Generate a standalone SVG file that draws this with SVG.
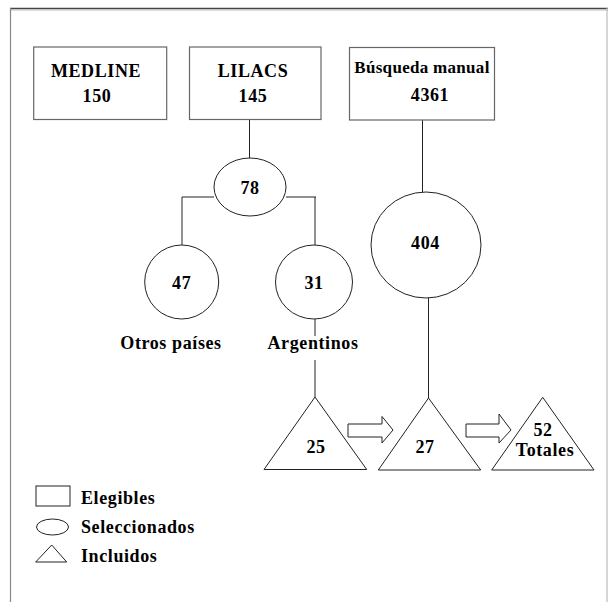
<svg xmlns="http://www.w3.org/2000/svg" width="608" height="602" viewBox="0 0 608 602">
<style>
.t{font-family:"Liberation Serif","Times New Roman",serif;font-weight:bold;font-size:18px;fill:#000;text-anchor:middle;letter-spacing:0.6px}
.tl{text-anchor:start}
.box{fill:#fff;stroke:#666;stroke-width:1.2}
.sh{fill:#fff;stroke:#222;stroke-width:1}
.ln{stroke:#222;stroke-width:1;fill:none}
</style>
<rect width="608" height="602" fill="#fff"/>
<g id="frame">
<line x1="10" y1="8.5" x2="608" y2="8.5" stroke="#444" stroke-width="1.5"/>
<line x1="10" y1="10" x2="608" y2="10" stroke="#bbb" stroke-width="1"/>
<line x1="10.5" y1="8" x2="10.5" y2="602" stroke="#888" stroke-width="1.2"/>
<line x1="607" y1="8" x2="607" y2="602" stroke="#bbb" stroke-width="1.2"/>
</g>
<g id="connectors">
<line class="ln" x1="249.5" y1="119" x2="249.5" y2="158" stroke-width="2"/>
<polyline class="ln" points="214,197 182,197 182,245"/>
<line class="ln" x1="286" y1="197" x2="316" y2="197" stroke-width="2.5"/>
<line class="ln" x1="315" y1="197" x2="315" y2="245"/>
<line class="ln" x1="315" y1="319" x2="315" y2="336"/>
<line class="ln" x1="315" y1="360" x2="315" y2="397"/>
<line class="ln" x1="422.5" y1="120" x2="422.5" y2="192"/>
<line class="ln" x1="428.5" y1="298" x2="428.5" y2="398"/>
<polygon class="sh" points="348,424 382,424 382,416.5 393,430 382,443 382,437 348,437"/>
<polygon class="sh" points="466,424 499,424 499,414 511,430 499,443 499,437 466,437"/>
</g>
<g id="medline">
<rect class="box" x="33.7" y="47" width="133" height="72.5"/>
<text class="t" x="96" y="77">MEDLINE</text>
<text class="t" x="97" y="102">150</text>
</g>
<g id="lilacs">
<rect class="box" x="189.5" y="47" width="131.5" height="72.5"/>
<text class="t" x="253" y="77">LILACS</text>
<text class="t" x="253" y="102">145</text>
</g>
<g id="busqueda">
<rect class="box" x="349.5" y="47.5" width="145" height="72.5" stroke="#333"/>
<text class="t" x="422" y="73" style="font-size:17px;letter-spacing:0.3px">Búsqueda manual</text>
<text class="t" x="430" y="101">4361</text>
</g>
<g id="n78">
<ellipse class="sh" cx="250" cy="187" rx="36" ry="29"/>
<text class="t" x="250" y="193.5">78</text>
</g>
<g id="n47">
<circle class="sh" cx="181.7" cy="282" r="37"/>
<text class="t" x="181.7" y="289">47</text>
<text class="t" x="171" y="349">Otros países</text>
</g>
<g id="n31">
<ellipse class="sh" cx="314" cy="282" rx="38.5" ry="37"/>
<text class="t" x="314" y="289">31</text>
<text class="t" x="313" y="349">Argentinos</text>
</g>
<g id="n404">
<ellipse class="sh" cx="426" cy="245" rx="55" ry="53"/>
<text class="t" x="425.5" y="249">404</text>
</g>
<g id="n25">
<polygon class="sh" points="315,397 264,469.5 366.7,469.5"/>
<text class="t" x="316" y="453">25</text>
</g>
<g id="n27">
<polygon class="sh" points="428.5,398 378.3,470 480.7,470"/>
<text class="t" x="425" y="453">27</text>
</g>
<g id="n52">
<polygon class="sh" points="542.7,397.3 491.7,470 594,470"/>
<text class="t" x="543" y="436">52</text>
<text class="t" x="545" y="456">Totales</text>
</g>
<g id="legend">
<rect class="sh" x="36" y="486" width="34" height="20"/>
<text class="t tl" x="81" y="504">Elegibles</text>
<ellipse class="sh" cx="52.5" cy="527" rx="16" ry="8"/>
<text class="t tl" x="81" y="533">Seleccionados</text>
<polygon class="sh" points="51.7,545 35.7,562 66.7,562"/>
<text class="t tl" x="81" y="562">Incluidos</text>
</g>
</svg>
